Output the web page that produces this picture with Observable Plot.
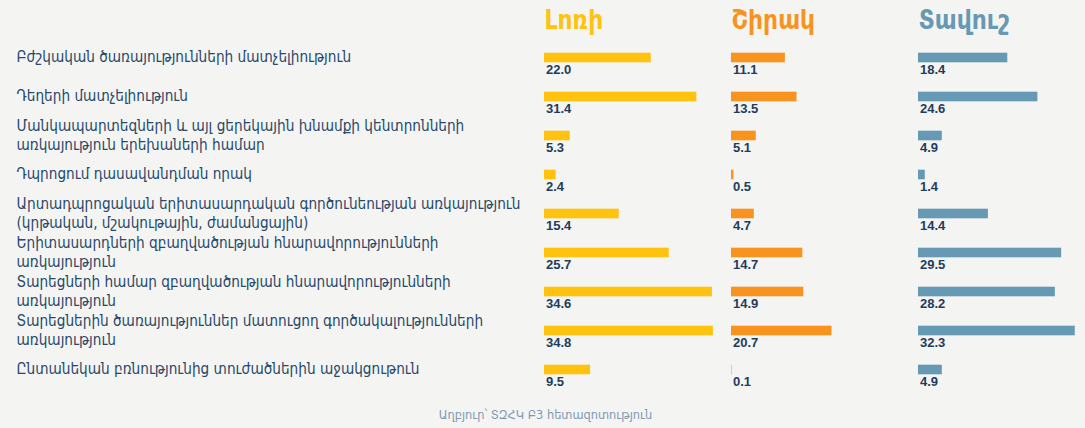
<!DOCTYPE html>
<html>
<head>
<meta charset="utf-8">
<script src="https://cdn.jsdelivr.net/npm/d3@7"></script>
<script src="https://cdn.jsdelivr.net/npm/@observablehq/plot@0.6"></script>
<style>
html, body { margin: 0; padding: 0; background: #f4f4f2; }
#chart { width: 1085px; height: 428px; position: relative; overflow: hidden; }
#chart svg { display: block; }
#footer { font-family: "DejaVu Sans"; font-size: 11.4px; color: #8099b3; text-align: center;
  height: 28px; line-height: 16px; padding-top: 7px; box-sizing: border-box; padding-left: 6px; }
</style>
</head>
<body>
<div id="chart"></div>
<script>
const regions = ["Լոռի", "Շիրակ", "Տավուշ"];
const regionColors = ["#ffc20e", "#f7931e", "#6699b3"];
const categories = [
  "Բժշկական ծառայությունների մատչելիություն",
  "Դեղերի մատչելիություն",
  "Մանկապարտեզների և այլ ցերեկային խնամքի կենտրոնների\nառկայություն երեխաների համար",
  "Դպրոցում դասավանդման որակ",
  "Արտադպրոցական երիտասարդական գործունեության առկայություն\n(կրթական, մշակութային, ժամանցային)",
  "Երիտասարդների զբաղվածության հնարավորությունների\nառկայություն",
  "Տարեցների համար զբաղվածության հնարավորությունների\nառկայություն",
  "Տարեցներին ծառայություններ մատուցող գործակալությունների\nառկայություն",
  "Ընտանեկան բռնությունից տուժածներին աջակցութուն"
];
const lori   = [22.0, 31.4, 5.3, 2.4, 15.4, 25.7, 34.6, 34.8, 9.5];
const shirak = [11.1, 13.5, 5.1, 0.5, 4.7, 14.7, 14.9, 20.7, 0.1];
const tavush = [18.4, 24.6, 4.9, 1.4, 14.4, 29.5, 28.2, 32.3, 4.9];
const source = "Աղբյուր՝ ՏԶՀԿ Բ3 հետազոտություն";

const series = [lori, shirak, tavush];
const table = regions.flatMap((r, j) =>
  series[j].map((v, i) => ({region: r, category: categories[i], value: v})));

const plot = Plot.plot({
  width: 1085,
  height: 400,
  marginLeft: 543.5,
  marginRight: 0.9,
  marginTop: 36.3,
  marginBottom: 9.3,
  style: {background: "transparent", fontFamily: "DejaVu Sans", overflow: "visible"},
  fx: {domain: regions, paddingInner: 0.1168, paddingOuter: 0, axis: null},
  x: {domain: [0, 34], axis: null},
  y: {domain: categories, paddingInner: 0, paddingOuter: 0},
  color: {domain: regions, range: regionColors},
  marks: [
    Plot.axisY({
      anchor: "left", tickSize: 0, tickPadding: 0, textAnchor: "start",
      dx: -528, dy: -2, fontSize: 15.2, lineHeight: 1.25, fill: "#27496b", label: null,
      fontFamily: "DejaVu Sans Condensed"
    }),
    Plot.barX(table, {
      fx: "region", y: "category", x: "value", fill: "region",
      insetTop: 14.7, insetBottom: 14.7
    }),
    Plot.text(table, {
      fx: "region", y: "category", x: 0, text: d => d.value.toFixed(1),
      textAnchor: "start", dx: 1.5, dy: 12, fontSize: 13, fontWeight: "bold",
      fontFamily: "Liberation Sans", fill: "#1e3c5c"
    }),
    Plot.text(regions, {
      fx: d => d, text: d => d, fill: d => d,
      frameAnchor: "top-left", textAnchor: "start", lineAnchor: "bottom",
      dy: -7.5, fontSize: 26, fontWeight: "bold", fontFamily: "DejaVu Sans Condensed"
    })
  ]
});

const chart = document.getElementById("chart");
chart.appendChild(plot);
const footer = document.createElement("div");
footer.id = "footer";
footer.textContent = source;
chart.appendChild(footer);
</script>
</body>
</html>
